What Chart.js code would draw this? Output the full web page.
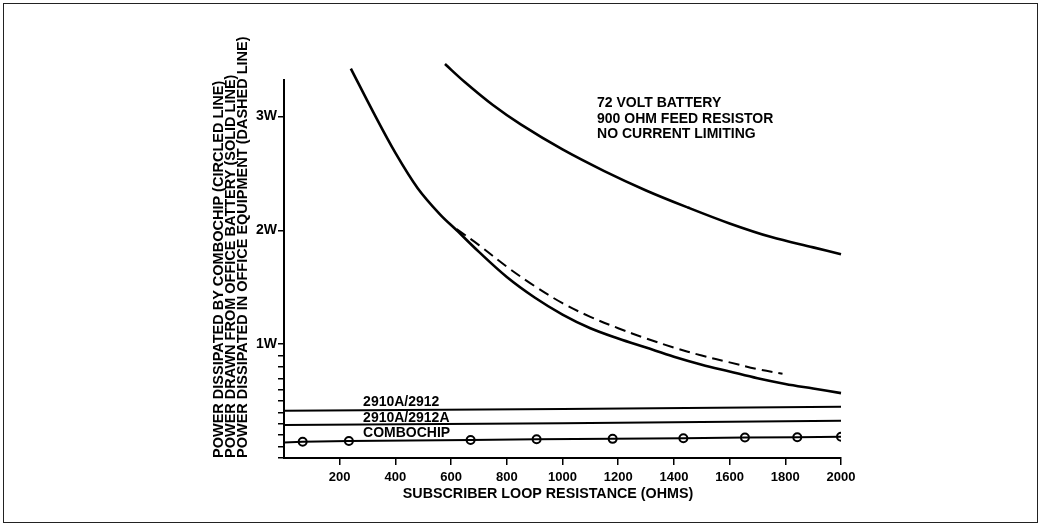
<!DOCTYPE html>
<html>
<head>
<meta charset="utf-8">
<title>Subscriber loop power</title>
<script src="https://cdn.jsdelivr.net/npm/chart.js@4.4.0/dist/chart.umd.min.js"></script>
<style>
  html, body { margin: 0; padding: 0; background: #fff; }
  #wrap { position: relative; width: 1042px; height: 528px; }
  #frame { position: absolute; left: 3px; top: 3px; width: 1033px; height: 518px; border: 1.5px solid #222; pointer-events: none; }
</style>
</head>
<body>
<div id="wrap">
  <canvas id="powerChart" width="1042" height="528"></canvas>
  <div id="frame"></div>
</div>
<script>
// Loop resistance (ohms) against power (watts)
const upperOhms  = [578, 650, 750, 850, 1000, 1150, 1300, 1450, 1600, 1750, 1900, 2000];
const upperWatts = [3.46, 3.30, 3.10, 2.93, 2.71, 2.52, 2.35, 2.20, 2.06, 1.94, 1.85, 1.79];

const lowerOhms  = [240, 320, 400, 480, 560, 620, 700, 800, 900, 1000, 1100, 1200, 1300, 1400, 1500, 1600, 1700, 1800, 1900, 2000];
const lowerWatts = [3.42, 3.04, 2.68, 2.37, 2.14, 2.00, 1.81, 1.59, 1.41, 1.26, 1.14, 1.05, 0.97, 0.89, 0.82, 0.76, 0.70, 0.65, 0.61, 0.57];

const dashedOhms  = [620, 700, 800, 900, 1000, 1100, 1200, 1300, 1400, 1500, 1600, 1700, 1790];
const dashedWatts = [2.01, 1.87, 1.68, 1.51, 1.36, 1.24, 1.14, 1.05, 0.97, 0.90, 0.84, 0.78, 0.74];

const flatOhms     = [0, 1000, 2000];
const w2912Watts   = [0.415, 0.43, 0.45];
const w2912AWatts  = [0.29, 0.305, 0.327];

const comboOhms  = [0, 67, 233, 670, 907, 1180, 1434, 1655, 1843, 2000];
const comboWatts = [0.137, 0.143, 0.149, 0.158, 0.165, 0.168, 0.173, 0.180, 0.183, 0.187];

const xTickValues = [200, 400, 600, 800, 1000, 1200, 1400, 1600, 1800, 2000];
const yTickValues = [0, 0.1, 0.2, 0.3, 0.4, 0.5, 0.6, 0.7, 0.8, 0.9, 1, 2, 3];

const yTitleLines = [
    'POWER DISSIPATED BY COMBOCHIP (CIRCLED LINE)',
    'POWER DRAWN FROM OFFICE BATTERY (SOLID LINE)',
    'POWER DISSIPATED IN OFFICE EQUIPMENT (DASHED LINE)'
];
const xTitle = 'SUBSCRIBER LOOP RESISTANCE (OHMS)';
const conditionLines = ['72 VOLT BATTERY', '900 OHM FEED RESISTOR', 'NO CURRENT LIMITING'];
const seriesLabels = ['2910A/2912', '2910A/2912A', 'COMBOCHIP'];

const FONT = '"Liberation Sans", Arial, Helvetica, sans-serif';
Chart.defaults.font.family = FONT;
Chart.defaults.color = '#000';

function points(xs, ys) {
    return xs.map((x, i) => ({ x: x, y: ys[i] }));
}

// free text: conditions box, series names, x axis title
const notesPlugin = {
    id: 'notes',
    afterDraw(chart) {
        const ctx = chart.ctx;
        const x = chart.scales.x;
        const y = chart.scales.y;
        ctx.save();
        ctx.fillStyle = '#000';
        ctx.textBaseline = 'middle';
        ctx.textAlign = 'left';
        ctx.font = 'bold 14px ' + FONT;

        const cx = x.getPixelForValue(1124);
        const cy = y.getPixelForValue(3.115);
        conditionLines.forEach((t, i) => ctx.fillText(t, cx, cy + i * 15.4));

        const lx = x.getPixelForValue(284);
        [0.492, 0.351, 0.22].forEach((v, i) => ctx.fillText(seriesLabels[i], lx, y.getPixelForValue(v)));

        ctx.textAlign = 'center';
        ctx.font = 'bold 14.3px ' + FONT;
        ctx.fillText(xTitle, x.getPixelForValue(948), x.top + 36);
        ctx.restore();
    }
};

const ctx = document.getElementById('powerChart').getContext('2d');
const powerChart = new Chart(ctx, {
    type: 'line',
    data: {
        datasets: [
            {
                label: 'Upper solid',
                data: points(upperOhms, upperWatts),
                borderColor: '#000',
                borderWidth: 2.6,
                pointRadius: 0,
                tension: 0.35,
                clip: false
            },
            {
                label: 'Lower solid',
                data: points(lowerOhms, lowerWatts),
                borderColor: '#000',
                borderWidth: 2.6,
                pointRadius: 0,
                tension: 0.35,
                clip: false
            },
            {
                label: 'Office equipment',
                data: points(dashedOhms, dashedWatts),
                borderColor: '#000',
                borderWidth: 2,
                borderDash: [11, 6],
                pointRadius: 0,
                tension: 0.35,
                clip: false
            },
            {
                label: '2910A/2912',
                data: points(flatOhms, w2912Watts),
                borderColor: '#000',
                borderWidth: 2,
                pointRadius: 0,
                tension: 0
            },
            {
                label: '2910A/2912A',
                data: points(flatOhms, w2912AWatts),
                borderColor: '#000',
                borderWidth: 2,
                pointRadius: 0,
                tension: 0
            },
            {
                label: 'Combochip',
                data: points(comboOhms, comboWatts),
                borderColor: '#000',
                borderWidth: 2,
                tension: 0,
                pointRadius: comboOhms.map((v, i) => i === 0 ? 0 : 4),
                pointBorderWidth: 2,
                pointBorderColor: '#000',
                pointBackgroundColor: 'rgba(0,0,0,0)'
            }
        ]
    },
    options: {
        responsive: false,
        animation: false,
        events: [],
        layout: { padding: { left: 200, top: 80, right: 201, bottom: 0 } },
        plugins: {
            legend: { display: false },
            tooltip: { enabled: false }
        },
        scales: {
            x: {
                type: 'linear',
                position: 'bottom',
                min: 0,
                max: 2000,
                afterBuildTicks: (scale) => { scale.ticks = xTickValues.map(v => ({ value: v })); },
                afterFit: (scale) => { scale.height = 70; },
                ticks: {
                    autoSkip: false,
                    maxRotation: 0,
                    padding: 5,
                    color: '#000',
                    font: { size: 13, weight: 'bold' },
                    callback: (v) => String(v)
                },
                grid: { drawOnChartArea: false, tickLength: 7, color: '#000', lineWidth: 1.5 },
                border: { display: true, color: '#000', width: 2 }
            },
            y: {
                type: 'linear',
                position: 'left',
                min: 0,
                max: 3.32,
                afterBuildTicks: (scale) => { scale.ticks = yTickValues.map(v => ({ value: v })); },
                afterFit: (scale) => { scale.width = 84; },
                ticks: {
                    autoSkip: false,
                    padding: 1,
                    color: '#000',
                    font: { size: 14, weight: 'bold' },
                    callback: (v) => (v >= 1 && Number.isInteger(v)) ? v + 'W' : ''
                },
                grid: { drawOnChartArea: false, tickLength: 6, color: '#000', lineWidth: 1.5 },
                border: { display: true, color: '#000', width: 2 },
                title: {
                    display: true,
                    align: 'start',
                    text: yTitleLines,
                    color: '#000',
                    font: { size: 14.5, weight: 'bold', lineHeight: 0.83 },
                    padding: { top: 12.5, bottom: 0 }
                }
            }
        }
    },
    plugins: [notesPlugin]
});
</script>
</body>
</html>
